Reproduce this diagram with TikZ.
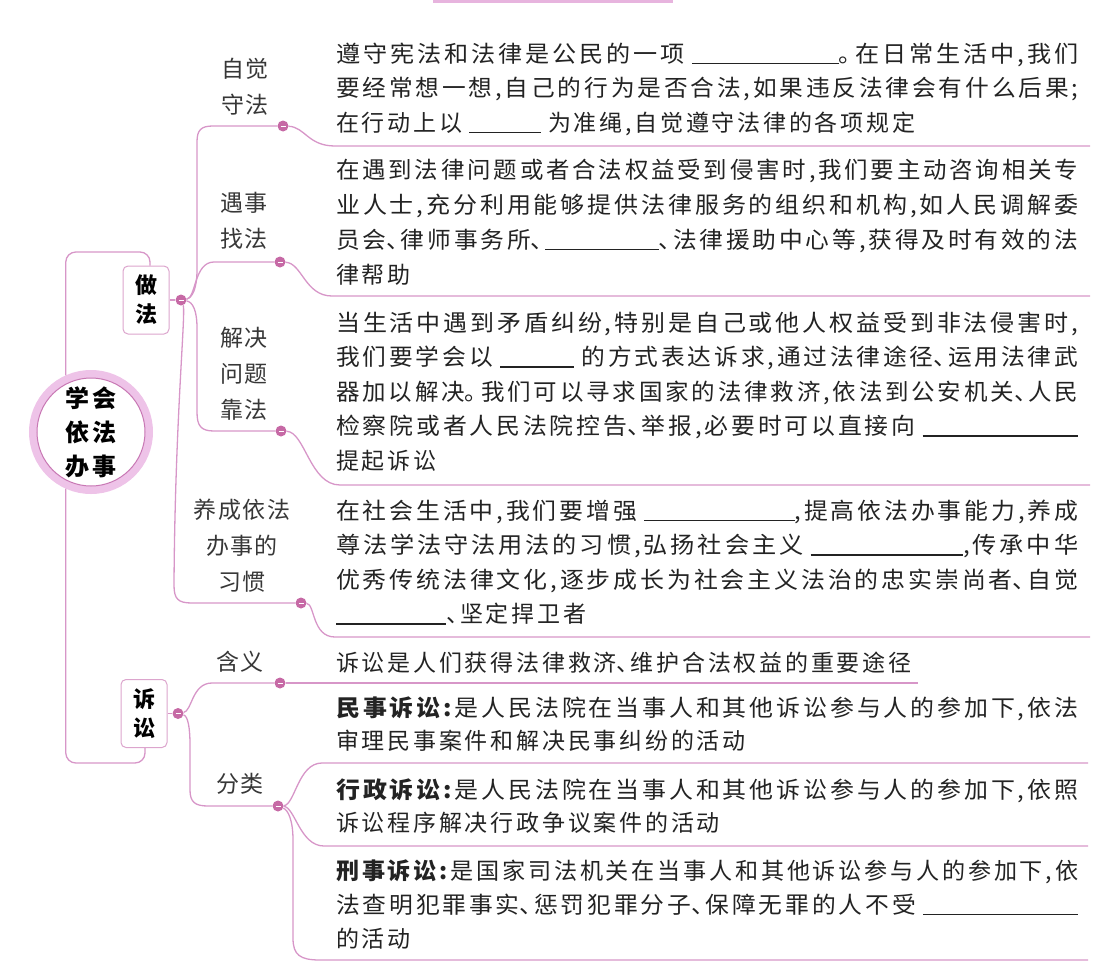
\documentclass[tikz,border=0pt]{standalone}
\usepackage{fontspec}
\usepackage{graphicx}
\newfontfamily\cjk[LetterSpace=12]{Noto Sans CJK SC}
\newfontfamily\cjklab[LetterSpace=6]{Noto Sans CJK SC}
\definecolor{linepink}{RGB}{215,150,200}
\definecolor{dotpink}{RGB}{198,105,165}
\definecolor{ringpink}{RGB}{238,195,232}
\definecolor{darkpink}{RGB}{200,120,180}
\definecolor{boxpink}{RGB}{220,165,205}
\definecolor{txtc}{RGB}{35,35,35}
\definecolor{labc}{RGB}{55,55,55}
\newcommand\fl[1]{\resizebox{742pt}{\height}{#1}}
\newcommand\blank[1]{\hspace{7pt}\rule[-2pt]{#1pt}{1.1pt}\hspace{7pt}}
\newcommand\blankl[1]{\hspace{7pt}\rule[-2pt]{#1pt}{1.1pt}}
\newcommand\blankn[1]{\rule[-2pt]{#1pt}{1.1pt}}
\newcommand\dn{\makebox[14pt][l]{、}}
\newcommand\jh{\makebox[16pt][l]{。}}
\newcommand\tl[3]{\node[txt] (#1) at (336,#2) {#3};}
\tikzset{
  txt/.style={font=\cjk\fontsize{23}{30}\selectfont, text=txtc, inner sep=0pt, anchor=base west},
  lab/.style={font=\cjklab\fontsize{23}{36}\selectfont, text=labc, align=center, inner sep=0pt},
  conn/.style={draw=linepink, line width=1.3pt},
  dotn/.style={circle, fill=dotpink, minimum size=11pt, inner sep=0pt,
    path picture={\draw[white, line width=0.7pt] ([xshift=-2.5pt]path picture bounding box.center) -- ([xshift=2.5pt]path picture bounding box.center);}},
  topic/.style={draw=boxpink, line width=1pt, rounded corners=5pt, fill=white, minimum width=46pt, minimum height=68pt, inner sep=0pt, font=\cjk\bfseries\fontsize{22}{29}\selectfont, align=center, text=black},
  rootc/.style={circle, draw=ringpink, line width=8pt, fill=white, minimum size=116pt, inner sep=0pt, font=\cjk\bfseries\fontsize{24}{34}\selectfont, align=center, text=black},
}
\begin{document}
\begin{tikzpicture}[x=1pt,y=-1pt]
\useasboundingbox (0,0) rectangle (1107,974);
\fill[ringpink!80!darkpink] (433,0) rectangle (673,3.5);

% root and topics
\node[rootc] (root) at (91,432) {学会\\依法\\办事};
\draw[darkpink, line width=1pt] (root.center) circle (54pt);
\node[topic] (zf) at (146,300) {做\\法};
\node[topic] (zs) at (144,713.5) {诉\\讼};
\draw[conn, rounded corners=10pt] (root.114) |- (150,252) -- ([xshift=4pt]zf.north);
\draw[conn, rounded corners=10pt] (root.246) |- (145,763) -- ([xshift=1pt]zs.south);

% dots
\node[dotn] (dA) at (181,300) {};
\node[dotn] (dS) at (178,713.5) {};
\node[dotn] (d1) at (283,126) {};
\node[dotn] (d2) at (280,262) {};
\node[dotn] (d3) at (281,431) {};
\node[dotn] (d4) at (301,603) {};
\node[dotn] (d5) at (280,683) {};
\node[dotn] (d6) at (278,806) {};
\draw[conn] (zf.east) -- (dA);
\draw[conn] (zs.east) -- (dS);

% connectors from 做法
\draw[conn] (dA) .. controls (192,298) and (197,289) .. (197,270) -- (197,142) .. controls (197,130) and (201,126) .. (213,126) -- (d1);
\draw[conn] (dA) .. controls (196,298) and (194,262) .. (214,262) -- (d2);
\draw[conn] (dA) .. controls (193,302) and (197,311) .. (197,328) -- (197,412) .. controls (197,426) and (201,431) .. (214,431) -- (d3);
\draw[conn] (dA) .. controls (186,312) and (175,420) .. (174,585) .. controls (174,599) and (178,603) .. (192,603) -- (d4);
% connectors from 诉讼
\draw[conn] (dS) .. controls (192,711) and (192,683) .. (212,683) -- (d5);
\draw[conn] (dS) .. controls (188,716) and (190,728) .. (190,745) -- (190,790) .. controls (190,802) and (195,806) .. (208,806) -- (d6);

% underlines
\coordinate (e1) at (1090,146);
\coordinate (e2) at (1090,296);
\coordinate (e3) at (1090,485);
\coordinate (e4) at (1090,637);
\coordinate (e5) at (918,683);
\coordinate (e6) at (1088,763);
\coordinate (e7) at (1088,846);
\coordinate (e8) at (1088,960);
\draw[conn] (d1) .. controls (305,127) and (308,146) .. (335,146) -- (e1);
\draw[conn] (d2) .. controls (302,263) and (305,296) .. (332,296) -- (e2);
\draw[conn] (d3) .. controls (305,432) and (310,485) .. (340,485) -- (e3);
\draw[conn] (d4) .. controls (315,604) and (312,637) .. (335,637) -- (e4);
\draw[conn] (d5) -- (e5);
\draw[conn] (d6) .. controls (295,805) and (298,763) .. (322,763) -- (e6);
\draw[conn] (d6) .. controls (295,807) and (300,846) .. (324,846) -- (e7);
\draw[conn] (d6) .. controls (288,810) and (293,820) .. (293,840) -- (293,938) .. controls (293,955) and (300,960) .. (320,960) -- (e8);

% labels
\node[lab] (l1) at (245,86.5) {自觉\\守法};
\node[lab] (l2) at (244,220.5) {遇事\\找法};
\node[lab] (l3) at (244,374) {解决\\问题\\靠法};
\node[lab] (l4) at (242,546) {养成依法\\办事的\\习惯};
\node[lab] (l5) at (240,662) {含义};
\node[lab] (l6) at (240,784) {分类};

% paragraph 1
\tl{p11}{62}{\fl{遵守宪法和法律是公民的一项\blankl{140}\jh 在日常生活中,我们}}
\tl{p12}{96.5}{\fl{要经常想一想,自己的行为是否合法,如果违反法律会有什么后果;}}
\tl{p13}{131}{在行动上以\blank{72}为准绳,自觉遵守法律的各项规定}
% paragraph 2
\tl{p21}{178}{\fl{在遇到法律问题或者合法权益受到侵害时,我们要主动咨询相关专}}
\tl{p22}{213}{\fl{业人士,充分利用能够提供法律服务的组织和机构,如人民调解委}}
\tl{p23}{248}{\fl{员会\dn 律师事务所\dn\blankn{110}\dn 法律援助中心等,获得及时有效的法}}
\tl{p24}{283}{律帮助}
% paragraph 3
\tl{p31}{331}{\fl{当生活中遇到矛盾纠纷,特别是自己或他人权益受到非法侵害时,}}
\tl{p32}{365.5}{\fl{我们要学会以\blank{72}的方式表达诉求,通过法律途径\dn 运用法律武}}
\tl{p33}{400}{\fl{器加以解决\jh 我们可以寻求国家的法律救济,依法到公安机关\dn 人民}}
\tl{p34}{434.5}{\fl{检察院或者人民法院控告\dn 举报,必要时可以直接向\blankl{150}}}
\tl{p35}{469}{提起诉讼}
% paragraph 4
\tl{p41}{519}{\fl{在社会生活中,我们要增强\blankl{145},提高依法办事能力,养成}}
\tl{p42}{553.5}{\fl{尊法学法守法用法的习惯,弘扬社会主义\blankl{145},传承中华}}
\tl{p43}{588}{\fl{优秀传统法律文化,逐步成长为社会主义法治的忠实崇尚者\dn 自觉}}
\tl{p44}{622.5}{\blankn{110}\dn 坚定捍卫者}
% 诉讼
\tl{p51}{671}{诉讼是人们获得法律救济\dn 维护合法权益的重要途径}
\tl{p61}{716}{\fl{\textbf{民事诉讼:}是人民法院在当事人和其他诉讼参与人的参加下,依法}}
\tl{p62}{749}{审理民事案件和解决民事纠纷的活动}
\tl{p71}{798}{\fl{\textbf{行政诉讼:}是人民法院在当事人和其他诉讼参与人的参加下,依照}}
\tl{p72}{831}{诉讼程序解决行政争议案件的活动}
\tl{p81}{879}{\fl{\textbf{刑事诉讼:}是国家司法机关在当事人和其他诉讼参与人的参加下,依}}
\tl{p82}{913}{\fl{法查明犯罪事实\dn 惩罚犯罪分子\dn 保障无罪的人不受\blankl{150}}}
\tl{p83}{947}{的活动}
\end{tikzpicture}
\end{document}
